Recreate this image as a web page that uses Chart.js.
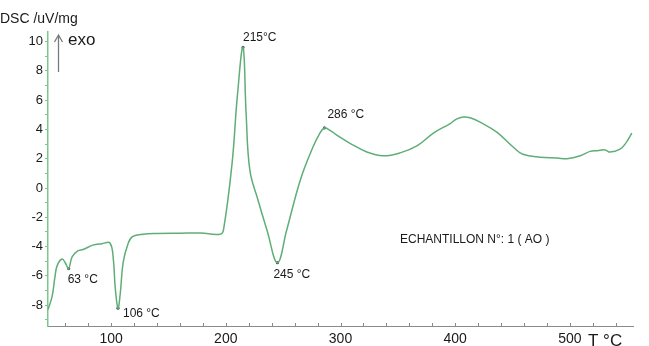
<!DOCTYPE html>
<html>
<head>
<meta charset="utf-8">
<script src="https://cdn.jsdelivr.net/npm/chart.js@4/dist/chart.umd.min.js"></script>
<style>
html,body{margin:0;padding:0;background:#fff;}
#wrap{width:649px;height:346px;position:relative;}
</style>
</head>
<body>
<div id="wrap"><canvas id="c" width="649" height="346"></canvas></div>
<script>
// ---- data ----
const temps = [45, 48.6, 51, 53, 57.3, 60, 63, 66, 71, 75.6, 84, 92, 99, 102, 103.5, 106, 108, 110.5, 115, 119, 128, 140, 160, 178, 195, 198, 205.5, 210, 215, 217.7, 221, 228, 236, 245, 253, 265, 276, 281, 286, 291.5, 297, 308, 323, 337, 352, 367, 381, 395.6, 401, 407, 413, 421.7, 436.5, 450.5, 459, 474, 489, 497.5, 509, 517.6, 524, 530.7, 535, 543.7, 549, 554];
const dsc = [-8.3, -7.4, -6.1, -5.3, -4.85, -5.1, -5.5, -4.7, -4.3, -4.2, -3.9, -3.8, -3.75, -4.9, -6.7, -8.2, -7.2, -5.1, -3.75, -3.3, -3.15, -3.1, -3.08, -3.07, -3.15, -2.85, 1.7, 6.2, 9.6, 5.1, 1.2, -0.8, -2.9, -5.1, -2.9, 0.55, 2.8, 3.6, 4.1, 3.9, 3.6, 3.07, 2.46, 2.2, 2.4, 2.9, 3.75, 4.4, 4.7, 4.85, 4.8, 4.5, 3.8, 2.8, 2.3, 2.1, 2.05, 2.0, 2.2, 2.5, 2.55, 2.6, 2.45, 2.65, 3.1, 3.75];
const peakTemps = [63, 106, 215, 245, 286];
const peakValues = [-5.5, -8.2, 9.6, -5.1, 4.1];
const peakLabels = ['63 °C', '106 °C', '215°C', '245 °C', '286 °C'];
const xTickLabels = [100, 200, 300, 400, 500];
const yTickLabels = [-8, -6, -4, -2, 0, 2, 4, 6, 8, 10];
const yTitle = 'DSC /uV/mg';
const xTitle = 'T °C';
const exoText = 'exo';
const sampleText = 'ECHANTILLON N°: 1 ( AO )';

// ---- styles ----
const lineColor = '#5fae77';
const labelOffsets = [[-1, 11], [5, 6], [0, -10], [-4, 12], [3, -13]];
const FONT = '"Liberation Sans", Arial, sans-serif';

const points = temps.map((t, i) => ({x: t, y: dsc[i]}));
const peakPts = peakTemps.map((t, i) => ({x: t, y: peakValues[i]}));

const deco = {
  id: 'deco',
  afterDraw(chart) {
    const ctx = chart.ctx;
    const xs = chart.scales.x, ys = chart.scales.y;
    ctx.save();
    ctx.strokeStyle = '#8a8a8a';
    ctx.lineWidth = 1;
    xs.ticks.forEach(tk => {
      const px = Math.round(xs.getPixelForValue(tk.value)) + 0.5;
      ctx.beginPath();
      ctx.moveTo(px, xs.top);
      ctx.lineTo(px, xs.top - 3);
      ctx.stroke();
    });
    ctx.fillStyle = '#1a1a1a';
    ctx.font = '12px ' + FONT;
    ctx.textBaseline = 'middle';
    ctx.textAlign = 'left';
    peakTemps.forEach((t, i) => {
      const px = xs.getPixelForValue(t), py = ys.getPixelForValue(peakValues[i]);
      ctx.fillText(peakLabels[i], px + labelOffsets[i][0], py + labelOffsets[i][1]);
    });
    ctx.font = '14px ' + FONT;
    ctx.fillText(yTitle, 0, 19);
    ctx.font = '17px ' + FONT;
    ctx.fillText(exoText, 68, 40);
    ctx.fillText(xTitle, 588, 341);
    ctx.font = '12px ' + FONT;
    ctx.fillText(sampleText, 400, 240);
    ctx.strokeStyle = '#7a7a7a';
    ctx.lineWidth = 1.3;
    ctx.beginPath();
    ctx.moveTo(58.5, 72); ctx.lineTo(58.5, 35);
    ctx.moveTo(54.5, 42); ctx.lineTo(58.5, 35); ctx.lineTo(62.5, 42);
    ctx.stroke();
    ctx.restore();
  }
};

new Chart(document.getElementById('c'), {
  type: 'line',
  data: {
    datasets: [
      {data: points, borderColor: lineColor, borderWidth: 1.5, pointRadius: 0, tension: 0.4, fill: false},
      {data: peakPts, showLine: false, pointRadius: 1.6, pointBackgroundColor: '#555', pointBorderWidth: 0}
    ]
  },
  options: {
    responsive: false,
    animation: false,
    events: [],
    layout: {padding: {left: 0, right: 16, top: 32, bottom: 0}},
    plugins: {legend: {display: false}, tooltip: {enabled: false}},
    scales: {
      x: {
        type: 'linear', min: 45, max: 555,
        afterFit: s => { s.height = 20; },
        border: {color: '#8a8a8a', width: 1},
        grid: {display: true, drawOnChartArea: false, drawTicks: false},
        ticks: {
          stepSize: 20, includeBounds: false, autoSkip: false, maxRotation: 0, padding: 5,
          color: '#1a1a1a', font: {family: FONT, size: 14},
          callback: v => xTickLabels.includes(v) ? String(v) : ''
        }
      },
      y: {
        type: 'linear', min: -9.42, max: 10.65,
        afterFit: s => { s.width = 48; },
        border: {color: '#7cc68f', width: 1.5},
        grid: {display: true, drawOnChartArea: false, tickLength: 3, color: '#7cc68f'},
        ticks: {
          stepSize: 1, includeBounds: false, autoSkip: false, padding: 2,
          color: '#1a1a1a', font: {family: FONT, size: 13},
          callback: v => yTickLabels.includes(v) ? String(v) : ''
        }
      }
    }
  },
  plugins: [deco]
});
</script>
</body>
</html>
